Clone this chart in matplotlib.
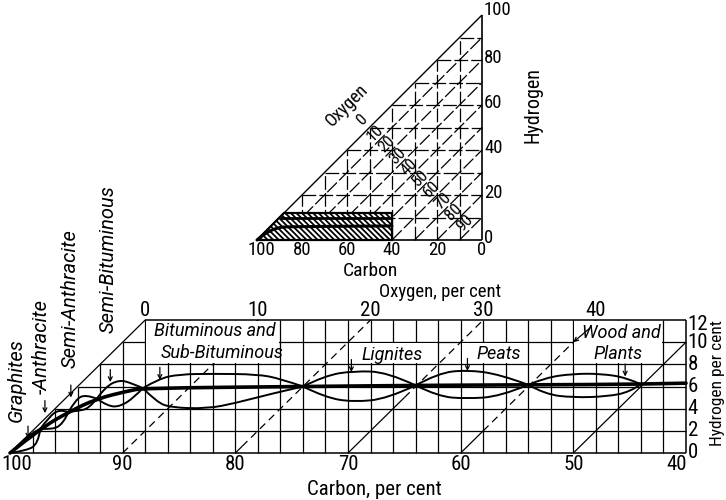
import numpy as np
import matplotlib
matplotlib.use('Agg')
import matplotlib.pyplot as plt
from matplotlib.path import Path
from matplotlib.patches import PathPatch, Polygon, Rectangle

# ---------------- data ----------------
# lower chart: carbon / hydrogen / oxygen scales (per cent)
carbon_ticks = [100, 90, 80, 70, 60, 50, 40]
hydrogen_ticks = [0, 2, 4, 6, 8, 10, 12]
oxygen_ticks = [0, 10, 20, 30, 40]
oxygen_lines = [10, 20, 30, 40, 50]

# thick average line (carbon, hydrogen)
mean_line = [(100, 0), (97.3, 2.2), (94.8, 3.7), (92.3, 4.9), (89.5, 5.6),
             (88.2, 5.85), (74, 6.0), (64, 6.1), (54, 6.15), (44, 6.2), (40, 6.3)]

# envelope curves of each fuel group (carbon, hydrogen)
graphite_upper = [(100, 0), (99.2, 0.8), (98.2, 1.7), (97.3, 2.2)]
graphite_lower = [(100, 0), (98.6, 0.2), (97.5, 0.8), (97.3, 2.2)]
anthracite_upper = [(97.3, 2.2), (96.5, 3.3), (95.6, 3.95), (94.8, 3.7)]
anthracite_lower = [(97.3, 2.2), (96.3, 2.1), (95.3, 2.6), (94.8, 3.7)]
semi_anth_upper = [(94.8, 3.7), (94.2, 4.8), (93.3, 5.3), (92.3, 4.9)]
semi_anth_lower = [(94.8, 3.7), (94.0, 3.8), (93.0, 4.0), (92.3, 4.9)]
semi_bit_upper = [(92.3, 4.9), (91.5, 6.0), (90.3, 6.6), (89.2, 6.3), (88.2, 5.85)]
semi_bit_lower = [(92.3, 4.9), (91.3, 4.2), (90.2, 4.2), (89.0, 5.0), (88.2, 5.85)]
bitum_upper = [(88.2, 5.85), (86.8, 6.7), (85, 7.1), (82, 7.15), (78, 7.1), (76, 6.7), (74, 6.0)]
bitum_lower = [(88.2, 5.85), (87, 4.6), (85.7, 4.1), (82.5, 4.0), (80, 4.5), (77, 5.3), (74, 6.0)]
lignite_upper = [(74, 6.0), (72, 7.0), (69.5, 7.4), (66.5, 7.3), (64, 6.1)]
lignite_lower = [(74, 6.0), (72, 5.0), (69.5, 4.6), (66.5, 4.9), (64, 6.1)]
peat_upper = [(64, 6.1), (62, 7.2), (59.5, 7.5), (56.5, 7.1), (54, 6.15)]
peat_lower = [(64, 6.1), (62, 5.1), (59.5, 4.9), (56.5, 5.1), (54, 6.15)]
wood_upper = [(54, 6.15), (52.5, 6.8), (50, 7.15), (47.5, 7.15), (45.3, 6.8), (44, 6.2)]
wood_lower = [(54, 6.15), (52.5, 5.3), (50, 5.0), (47, 5.1), (45, 5.5), (44, 6.2)]

# arrow tips pointing at the curves (carbon, hydrogen)
arrow_tips = [(98.4, 1.3), (96.9, 3.6), (94.6, 5.0), (91.1, 6.4), (86.7, 6.6),
              (69.7, 7.3), (59.4, 7.4), (45.4, 6.9)]

# upper triangle chart
tri_carbon_ticks = [100, 80, 60, 40, 20, 0]
tri_hydrogen_ticks = [0, 20, 40, 60, 80, 100]
tri_oxygen_ticks = [0, 10, 20, 30, 40, 50, 60, 70, 80, 90]
fuel_region = [(100, 0), (88, 12), (40, 12), (40, 0)]

# ---------------- figure ----------------
plt.rcParams['font.family'] = ['Roboto Condensed', 'DejaVu Sans']
plt.rcParams['hatch.linewidth'] = 1.3

fig = plt.figure(figsize=(7.26, 5.0), dpi=100)
ax = fig.add_axes([10 / 726, 47 / 500, 676 / 726, 133 / 500])
ax.set_xlim(100, 40)
ax.set_ylim(0, 12)
ax.axis('off')

ax2 = fig.add_axes([257 / 726, 260 / 500, 225 / 726, 225 / 500])
ax2.set_xlim(100, 0)
ax2.set_ylim(0, 100)
ax2.axis('off')

K = 'black'


def line(a, xs, ys, lw=0.9, ls='-', z=1):
    a.plot(xs, ys, color=K, lw=lw, ls=ls, zorder=z, clip_on=False,
           solid_capstyle='butt', dash_capstyle='butt')


def smooth(a, pts, lw=1.4, z=4):
    pts = np.asarray(pts, float)
    verts = [pts[0]]
    codes = [Path.MOVETO]
    for i in range(1, len(pts) - 2):
        verts += [pts[i], (pts[i] + pts[i + 1]) / 2]
        codes += [Path.CURVE3, Path.CURVE3]
    verts += [pts[-2], pts[-1]]
    codes += [Path.CURVE3, Path.CURVE3]
    a.add_patch(PathPatch(Path(verts, codes), fill=False, lw=lw, ec=K,
                          zorder=z, clip_on=False, capstyle='round'))


# ---- lower chart grid ----
for c in range(98, 40, -2):
    line(ax, [c, c], [0, min(12, 100 - c)])
for h in hydrogen_ticks[1:-1]:
    line(ax, [100 - h, 40], [h, h])
line(ax, [100, 40], [0, 0], lw=1.1)
line(ax, [88, 40], [12, 12], lw=1.1)
line(ax, [40, 40], [0, 12], lw=1.1)
line(ax, [100, 88], [0, 12], lw=0.9)

# constant-oxygen diagonals
solid_part = {10: 0, 20: 0.6, 30: 5, 40: 2, 50: 10}
for o in oxygen_lines:
    c0 = 100 - o
    h_end = min(12, c0 - 40)
    hs = solid_part[o]
    if hs > 0:
        line(ax, [c0, c0 - hs], [0, hs], lw=0.9)
    if hs < h_end:
        line(ax, [c0 - hs, c0 - h_end], [hs, h_end], lw=0.9, ls=(0, (6, 4)))

# white label boxes
for (c1, c2, h1, h2) in [(87.9, 76.1, 8.1, 11.9), (69.9, 62.1, 8.1, 9.9),
                         (59.9, 54.1, 8.1, 9.9), (49.9, 42.1, 8.1, 11.9)]:
    ax.add_patch(Rectangle((c2, h1), c1 - c2, h2 - h1, fc='white', ec='none',
                           zorder=2, clip_on=False))

# curves
for pts in [graphite_upper, graphite_lower, anthracite_upper, anthracite_lower,
            semi_anth_upper, semi_anth_lower, semi_bit_upper, semi_bit_lower,
            bitum_upper, bitum_lower, lignite_upper, lignite_lower,
            peat_upper, peat_lower, wood_upper, wood_lower]:
    smooth(ax, pts, lw=1.4)
smooth(ax, mean_line, lw=2.6, z=5)

for (c, h) in arrow_tips:
    ax.annotate('', xy=(c, h), xytext=(0, 9), textcoords='offset points',
                arrowprops=dict(arrowstyle='->', lw=0.9, color=K,
                                shrinkA=0, shrinkB=0, mutation_scale=7),
                zorder=6, annotation_clip=False)

# tick labels
fs_num = 15
for c in carbon_ticks:
    cx = c
    if c == 100:
        cx = 99.4
    if c == 40:
        cx = 40.8
    ax.text(cx, -1.0, str(c), ha='center', va='center', fontsize=fs_num)
for o in oxygen_ticks:
    ax.text(88 - o, 12.9, str(o), ha='center', va='center', fontsize=fs_num)
for h in hydrogen_ticks:
    hy = h if h != 12 else 11.6
    ax.text(39.85, hy, str(h), ha='left', va='center', fontsize=fs_num)

ax.text(67.7, -3.25, 'Carbon, per cent', ha='center', va='center', fontsize=15)
ax.text(61.8, 14.5, 'Oxygen, per cent', ha='center', va='center', fontsize=13.5)
ax.text(37.2, 6.3, 'Hydrogen per cent', ha='center', va='center', fontsize=12.5,
        rotation=90)

# group names
it = dict(style='italic', fontsize=13, ha='center', va='center', zorder=3,
          family=['Roboto', 'DejaVu Sans'])
rt = dict(it, fontsize=14.5, rotation=90)
ax.text(99.4, 6.6, 'Graphites', **rt)
ax.text(97.2, 9.6, '-Anthracite', **rt)
ax.text(94.7, 13.9, 'Semi-Anthracite', **rt)
ax.text(91.3, 17.5, 'Semi-Bituminous', **rt)
ax.text(81.8, 11.0, 'Bituminous and', **it)
ax.text(81.2, 9.0, 'Sub-Bituminous', **it)
ax.text(66.1, 8.85, 'Lignites', **it)
ax.text(56.6, 8.9, 'Peats', **it)
ax.text(45.7, 10.8, 'Wood and', **it)
ax.text(46.0, 8.9, 'Plants', **it)
ax.annotate('', xy=(50, 10), xytext=(48.5, 11.3),
            arrowprops=dict(arrowstyle='->', lw=0.9, color=K, shrinkA=0,
                            shrinkB=0, mutation_scale=7), zorder=6)

# ---- upper triangle chart ----
dash = (0, (11, 2.5))
for v in range(10, 100, 10):
    line(ax2, [v, v], [0, 100 - v], lw=0.9, ls=dash)
    line(ax2, [100 - v, 0], [v, v], lw=0.9, ls=dash)
    line(ax2, [100 - v, 0], [0, 100 - v], lw=0.9, ls=dash)
line(ax2, [100, 0], [0, 100], lw=1.0)
line(ax2, [0, 0], [0, 100], lw=1.2)
line(ax2, [100, 0], [0, 0], lw=1.2)

ax2.add_patch(Polygon(fuel_region, closed=True, fc='white', ec=K, lw=1.6,
                      hatch='\\\\\\\\\\\\', zorder=3, clip_on=False))
line(ax2, [90, 40], [10, 10], lw=2.0, z=4)
smooth(ax2, mean_line, lw=2.2, z=5)

for c in tri_carbon_ticks:
    cx = 98.2 if c == 100 else c
    ax2.text(cx, -4.4, str(c), ha='center', va='center', fontsize=13.5)
for h in tri_hydrogen_ticks:
    hy = 102.2 if h == 100 else h + 1
    ax2.text(-0.9, hy, str(h), ha='left', va='center', fontsize=13.5)
ax2.text(49.8, -13.8, 'Carbon', ha='center', va='center', fontsize=14)
ax2.text(-22.7, 60, 'Hydrogen', ha='center', va='center', fontsize=14.5,
         rotation=90)
ax2.text(60, 60, 'Oxygen', ha='center', va='center', fontsize=13, rotation=45)
for o in tri_oxygen_ticks:
    p = (100 - (o - 5)) / 2 if o > 0 else 53.5
    ax2.text(p, p, str(o), ha='center', va='center', fontsize=12, rotation=45,
             zorder=6)

fig.savefig('out.png', dpi=100)
